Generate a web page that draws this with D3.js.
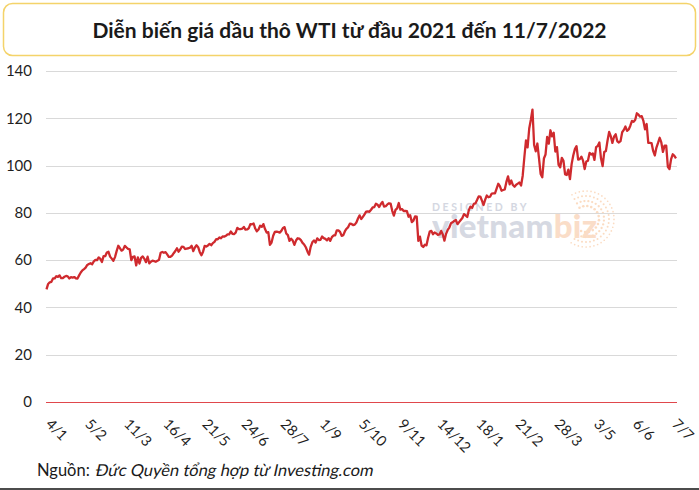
<!DOCTYPE html>
<html>
<head>
<meta charset="utf-8">
<script src="https://cdn.jsdelivr.net/npm/d3@7"></script>
<style>
  html, body { margin: 0; padding: 0; background: #ffffff; }
  svg { display: block; }
</style>
</head>
<body>
<svg id="chart" width="699" height="490"></svg>
<script>
// ---------- DATA ----------
const title = "Diễn biến giá dầu thô WTI từ đầu 2021 đến 11/7/2022";
const sourceLabel = "Nguồn:";
const sourceText = "Đức Quyền tổng hợp từ Investing.com";

// x-axis tick labels, one every `tickInterval` trading days
const tickLabels = ["4/1","5/2","11/3","16/4","21/5","24/6","28/7","1/9","5/10","9/11","14/12","18/1","21/2","28/3","3/5","6/6","7/7"];
const tickInterval = 24;

const yTicks = [0, 20, 40, 60, 80, 100, 120, 140];

// WTI daily price (USD/barrel), 4/1/2021 -> 11/7/2022
const prices = [
  // 4/1 ->
  47.62, 49.93, 50.63, 50.83, 52.24, 52.25, 53.21, 52.91, 53.57, 52.36,
  52.42, 52.98, 53.31, 53.13, 52.27, 52.77, 52.61, 52.85, 52.34, 52.20,
  53.55, 54.76, 55.69, 56.23,
  // 5/2 ->
  56.85, 57.97, 58.36, 58.68, 58.24, 59.47, 60.08, 60.05, 61.14, 60.52,
  59.24, 61.70, 61.67, 63.22, 63.53, 61.50, 60.64, 59.75, 61.28, 63.83,
  66.09, 65.05, 64.01, 64.44,
  // 11/3 ->
  66.02, 65.39, 64.80, 64.60, 60.00, 61.42, 61.55, 57.76, 61.18, 58.56,
  60.97, 61.56, 60.55, 59.16, 61.45, 58.65, 59.33, 59.77, 59.60, 59.32,
  59.70, 60.18, 63.15, 63.46,
  // 16/4 ->
  63.13, 63.38, 62.44, 61.35, 61.43, 61.91, 62.94, 63.86, 65.01, 63.58,
  64.49, 65.69, 65.63, 64.71, 64.90, 65.03, 65.28, 66.08, 63.82, 65.37,
  66.27, 65.49, 63.36, 62.05,
  // 21/5 ->
  63.58, 66.05, 65.76, 66.21, 66.85, 66.32, 67.20, 67.72, 68.83, 68.81,
  69.62, 69.23, 70.05, 69.96, 70.29, 70.91, 70.88, 72.12, 71.15, 71.04,
  71.64, 73.66, 73.08, 73.08,
  // 24/6 ->
  73.30, 74.05, 72.91, 72.98, 73.47, 75.23, 75.16, 75.50, 73.37, 72.20,
  72.94, 74.56, 74.10, 75.25, 73.13, 71.65, 71.81, 66.42, 67.42, 70.30,
  71.91, 72.07, 71.91, 71.65,
  // 28/7 ->
  72.39, 73.62, 73.95, 71.26, 70.56, 68.15, 69.09, 68.28, 66.48, 68.29,
  69.25, 69.09, 68.44, 67.29, 66.59, 65.46, 63.69, 62.32, 65.64, 67.54,
  68.36, 67.42, 69.21, 68.50,
  // 1/9 ->
  68.59, 69.99, 69.29, 69.00, 68.35, 69.30, 68.14, 69.72, 70.45, 70.46,
  72.61, 72.61, 71.97, 70.29, 70.56, 72.23, 73.30, 73.98, 75.45, 75.29,
  74.83, 75.03, 75.88, 77.62,
  // 5/10 ->
  78.93, 77.43, 78.30, 79.35, 80.52, 80.64, 80.44, 81.31, 82.28, 82.44,
  83.87, 83.42, 82.50, 83.76, 84.65, 82.66, 82.81, 83.57, 84.05, 83.91,
  80.86, 78.81, 81.27, 81.93,
  // 9/11 ->
  84.15, 81.34, 81.59, 80.79, 80.88, 80.76, 78.36, 79.01, 76.10, 76.75,
  78.50, 78.39, 68.15, 69.95, 66.18, 65.57, 66.50, 66.26, 69.49, 72.05,
  72.36, 70.94, 71.67, 71.29,
  // 14/12 ->
  70.73, 70.87, 72.38, 70.86, 68.23, 71.12, 72.76, 73.79, 75.57, 75.98,
  76.56, 76.99, 75.21, 76.08, 76.99, 77.85, 79.46, 78.90, 78.23, 81.22,
  82.64, 82.12, 83.82, 84.00,
  // 18/1 ->
  85.43, 86.96, 86.90, 85.14, 83.31, 85.60, 87.35, 86.61, 86.82, 88.15,
  88.20, 88.26, 90.27, 92.31, 91.32, 89.36, 89.66, 89.88, 93.10, 95.46,
  92.07, 93.66, 91.76, 91.07,
  // 21/2 ->
  91.90, 92.35, 92.81, 91.59, 95.72, 103.41, 110.60, 107.67, 115.68, 119.40,
  123.70, 108.70, 106.02, 109.33, 103.01, 96.44, 95.04, 102.98, 104.70, 112.12,
  109.27, 114.93, 112.34, 113.90,
  // 28/3 ->
  105.96, 107.82, 100.28, 99.27, 103.28, 102.00, 96.23, 96.03, 98.26, 94.29,
  100.60, 104.25, 106.95, 108.21, 102.56, 102.75, 103.79, 102.07, 98.54, 101.70,
  102.02, 105.36, 104.69, 105.17,
  // 3/5 ->
  102.41, 107.81, 108.26, 109.77, 103.09, 99.76, 105.71, 106.13, 110.49, 114.20,
  112.40, 109.59, 112.21, 113.23, 110.29, 109.77, 110.33, 114.09, 115.07, 116.50,
  114.67, 115.26, 116.87, 118.87,
  // 6/6 ->
  118.50, 119.41, 122.11, 121.51, 120.67, 120.93, 118.93, 115.31, 117.59, 109.56,
  109.60, 109.52, 106.19, 104.27, 107.62, 109.57, 111.76, 109.78, 105.76, 108.43,
  108.40, 99.50, 98.53, 102.73, 104.79, 104.09, 103.00
];

// ---------- LAYOUT ----------
const W = 699, H = 490;
const plot = { left: 46.5, right: 676, top: 71, bottom: 402 };
const lineColor = "#cf2a2e";

const svg = d3.select("#chart");
svg.append("rect").attr("width", W).attr("height", H).attr("fill", "#ffffff");

// Title box
svg.append("rect")
  .attr("x", 3.5).attr("y", 3.5).attr("width", 692).attr("height", 52)
  .attr("rx", 9).attr("ry", 9)
  .attr("fill", "#ffffff").attr("stroke", "#f4d36a").attr("stroke-width", 1.5);
svg.append("text")
  .attr("x", 349.5).attr("y", 38)
  .attr("text-anchor", "middle")
  .attr("font-family", "Lato, 'Noto Sans', sans-serif")
  .attr("font-weight", 700)
  .attr("font-size", 21)
  .attr("fill", "#1a1a1a")
  .text(title);

const x = d3.scaleLinear().domain([0, prices.length - 1]).range([plot.left, plot.right]);
const y = d3.scaleLinear().domain([0, 140]).range([plot.bottom, plot.top]);

// Watermark (behind data)
const wm = svg.append("g").attr("opacity", 0.85);
wm.append("text").attr("x", 432).attr("y", 211)
  .attr("font-family", "Lato, sans-serif").attr("font-weight", 700)
  .attr("font-size", 10.5).attr("letter-spacing", 2.6).attr("fill", "#cdd1dc")
  .text("DESIGNED BY");
const wmt = wm.append("text").attr("x", 432).attr("y", 238)
  .attr("font-family", "Lato, sans-serif").attr("font-weight", 900)
  .attr("font-size", 33).attr("letter-spacing", 0.3);
wmt.append("tspan").attr("fill", "#cfd3de").text("vietnam");
wmt.append("tspan").attr("fill", "#fad8bf").text("biz");
// dotted swirl of the logo
const rings = [13, 18, 23, 28];
rings.forEach((r, k) => {
  const n = Math.round(r * 1.1);
  for (let j = 0; j < n; j++) {
    const a = (-120 + (j / n) * 250) * Math.PI / 180;
    wm.append("circle")
      .attr("cx", 586 + r * Math.cos(a))
      .attr("cy", 219 + r * Math.sin(a))
      .attr("r", 1.3 - k * 0.15)
      .attr("fill", "#fbd6b8");
  }
});

// Gridlines
svg.append("g").selectAll("line")
  .data(yTicks.filter(d => d !== 0))
  .join("line")
  .attr("x1", plot.left - 0.5).attr("x2", plot.right + 1)
  .attr("y1", d => Math.round(y(d)) + 0.5).attr("y2", d => Math.round(y(d)) + 0.5)
  .attr("stroke", "#d9d9d9").attr("stroke-width", 1);

// zero line (red)
svg.append("line")
  .attr("x1", plot.left - 0.5).attr("x2", plot.right + 1)
  .attr("y1", Math.round(y(0)) + 0.5).attr("y2", Math.round(y(0)) + 0.5)
  .attr("stroke", "#e0474c").attr("stroke-width", 1.2);

// y-axis labels
const yAxis = d3.axisLeft(y).tickValues(yTicks).tickSize(0).tickPadding(0);
const gy = svg.append("g").attr("transform", "translate(32,0)").call(yAxis);
gy.select(".domain").remove();
gy.selectAll("text")
  .attr("font-family", "Lato, sans-serif")
  .attr("font-size", 15)
  .attr("fill", "#1f1f1f");

// x-axis labels (rotated)
const xTickIdx = tickLabels.map((_, k) => k * tickInterval);
svg.append("g").selectAll("text")
  .data(xTickIdx)
  .join("text")
  .attr("transform", (d) => `translate(${x(d) - 1.5},${425}) rotate(45)`)
  .attr("font-family", "Lato, sans-serif")
  .attr("font-size", 14.5)
  .attr("fill", "#1f1f1f")
  .text((d, k) => tickLabels[k]);

// Price line
const line = d3.line().x((d, i) => x(i)).y(d => y(d)).curve(d3.curveLinear);
svg.append("path")
  .datum(prices)
  .attr("d", line)
  .attr("fill", "none")
  .attr("stroke", lineColor)
  .attr("stroke-width", 2.3)
  .attr("stroke-linejoin", "round");

// Source: regular label + slanted (oblique) text
const srcFont = 16.5;
const srcLabel = svg.append("text").attr("x", 37).attr("y", 476)
  .attr("font-family", "Lato, sans-serif").attr("font-size", srcFont).attr("fill", "#1a1a1a")
  .text(sourceLabel);
const labelW = srcLabel.node().getComputedTextLength();
svg.append("text")
  .attr("transform", `translate(${37 + labelW + 5},476) skewX(-12)`)
  .attr("font-family", "Lato, sans-serif").attr("font-size", srcFont).attr("fill", "#1a1a1a")
  .text(sourceText);

// bottom rule
svg.append("line").attr("x1", 0).attr("x2", W).attr("y1", 489).attr("y2", 489)
  .attr("stroke", "#111").attr("stroke-width", 1.5);
</script>
</body>
</html>
